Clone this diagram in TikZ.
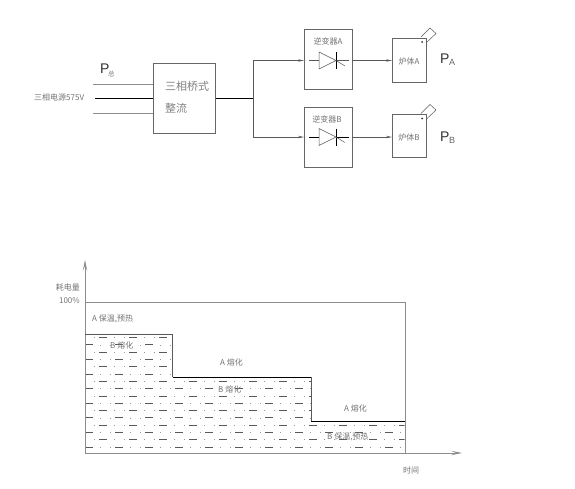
\documentclass[tikz,border=0pt]{standalone}
\usepackage{fontspec}
\setmainfont{Liberation Sans}
\newfontfamily\cjk{Noto Sans CJK SC}[Scale=1]
\usetikzlibrary{arrows.meta}
\tikzset{
 x=1pt,y=-1pt,
 ln/.style={draw=black!65,line width=0.6pt},
 dk/.style={draw=black,line width=0.6pt},
 lt/.style={draw=black!45,line width=0.9pt},
 tip/.style={-{Stealth[length=6pt,width=2.4pt]}},
 bigtip/.style={-{Stealth[length=11pt,width=4.5pt,inset=5pt]}},
 lab/.style={inner sep=0pt,text=black!55,font=\cjk\fontsize{8}{8}\selectfont},
 big/.style={inner sep=0pt,text=black!50,font=\cjk\fontsize{11}{11}\selectfont},
 pw/.style={inner sep=0pt,text=black!80,anchor=base west,font=\fontsize{14}{14}\selectfont},
 sb/.style={inner sep=0pt,text=black!60,anchor=base west,font=\fontsize{9}{9}\selectfont},
 boxn/.style={draw=black!60,line width=0.7pt,inner sep=0pt,anchor=north west},
 hatchdash/.style={draw=black!65,line width=0.7pt,dash pattern=on 7.5pt off 22.5pt},
 hatchdot/.style={draw=black!40,line width=0.5pt,dash pattern=on 0.7pt off 9.3pt on 0.7pt off 19.3pt},
}
\begin{document}
\begin{tikzpicture}
\useasboundingbox (0,0) rectangle (575,488);
% rectifier
\node[boxn,minimum width=62pt,minimum height=70pt] (rect) at (153,63) {};
\coordinate (i1) at (93,84); \coordinate (i2) at (95,98); \coordinate (i3) at (93,113);
\draw[lt] (i1) -- (i1 -| rect.west);
\draw[dk] (i2) -- (i2 -| rect.west);
\draw[lt] (i3) -- (i3 -| rect.west);
\node[lab,anchor=west] (src) at (34,97) {三相电源575V};
\node[pw] (ptot) at (100,73) {P};
\node[lab,anchor=west,font=\cjk\fontsize{6.5}{6.5}\selectfont] (ptots) at (108,74) {总};
\node[big,anchor=west] (t1) at (165,86) {三相桥式};
\node[big,anchor=west] (t2) at (165,108) {整流};
% inverters
\node[boxn,minimum width=48pt,minimum height=60pt] (invA) at (304,29) {};
\node[boxn,minimum width=48pt,minimum height=60pt] (invB) at (304,107) {};
\node[lab] (invAt) at (328,41) {逆变器A};
\node[lab] (invBt) at (327,119) {逆变器B};
% furnaces
\node[boxn,minimum width=34pt,minimum height=44pt] (fA) at (392,38) {};
\node[boxn,minimum width=34pt,minimum height=43pt] (fB) at (392,114) {};
\node[lab] (fAt) at (409,61) {炉体A};
\node[lab] (fBt) at (409,137) {炉体B};
\node[pw] (pA) at (440,63) {P};
\node[sb] (pAs) at (449,65) {A};
\node[pw] (pB) at (440,141) {P};
\node[sb] (pBs) at (449,143) {B};
% wiring
\coordinate (br) at (253.5,98);
\coordinate (ainA) at (304,60.5); \coordinate (ainB) at (304,137);
\draw[dk] (rect.east |- br) -- (br);
\draw[ln,tip] (br) |- (ainA);
\draw[ln,tip] (br) |- (ainB);
\coordinate (aoutA) at (352,60.5); \coordinate (aoutB) at (352,137);
\draw[ln,tip] (aoutA) -- (aoutA -| fA.west);
\draw[ln,tip] (aoutB) -- (aoutB -| fB.west);
% diodes and spouts
\foreach \yy/\ld in {60.5/ln,137/dk}{
 \draw[ln,line width=0.5pt] (319,\yy-8.5) -- (336,\yy) -- (319,\yy+8.5) -- cycle;
 \draw[\ld] (309,\yy) -- (319,\yy);
 \draw[\ld] (336,\yy) -- (349,\yy);
 \draw[dk] (336,\yy-8.5) -- (336,\yy+8.5);
 \draw[ln,line width=0.5pt] (336,\yy) -- (345,\yy+5.5);
}
\foreach \d in {0,76.5}{
 \fill[black!80] (422,42+\d) circle (1pt);
 \draw[ln,line width=0.5pt] (421,37+\d) -- (430,28+\d) -- (436,33.5+\d) -- (426,43+\d);
}
% chart hatch
\begin{scope}
\clip (85.5,334.5) -- (172.5,334.5) -- (172.5,377.5) -- (311,377.5) -- (311,421.5) -- (404.5,421.5) -- (404.5,452.5) -- (85.5,452.5) -- cycle;
\foreach \r in {0,2,...,14}{
 \draw[hatchdash] (69,337.5+7.3*\r) -- (420,337.5+7.3*\r);
 \draw[hatchdot] (84,337.5+7.3*\r) -- (420,337.5+7.3*\r);
}
\foreach \r in {1,3,...,15}{
 \draw[hatchdash] (55,337.5+7.3*\r) -- (420,337.5+7.3*\r);
 \draw[hatchdot] (70,337.5+7.3*\r) -- (420,337.5+7.3*\r);
}
\end{scope}
% chart outline
\coordinate (o) at (85,453);
\coordinate (ytop) at (85,260);
\coordinate (xend) at (462,453);
\draw[lt,bigtip] (o) -- (ytop);
\draw[lt,bigtip] (o) -- (xend);
\draw[lt] (85,302) -- (405,302) -- (405,453);
\draw[ln] (85,334) -- (172.5,334) -- (172.5,377);
\draw[dk] (172.5,377) -- (311,377);
\draw[ln] (311,377) -- (311,421);
\draw[dk] (311,421) -- (405,421);
\node[lab,anchor=east] (yl) at (80,287) {耗电量};
\node[lab,anchor=east] (y100) at (80,301) {100\%};
\node[lab,anchor=west] (l1) at (92,319) {A 保温,预热};
\node[lab,anchor=west] (l2) at (110,345) {B 熔化};
\node[lab,anchor=west] (l3) at (220,362) {A 熔化};
\node[lab,anchor=west] (l4) at (218,389) {B 熔化};
\node[lab,anchor=west] (l5) at (344,408) {A 熔化};
\node[lab,anchor=west] (l6) at (327,437) {B 保温,预热};
\node[lab,anchor=west] (xl) at (403,470) {时间};
\end{tikzpicture}
\end{document}
